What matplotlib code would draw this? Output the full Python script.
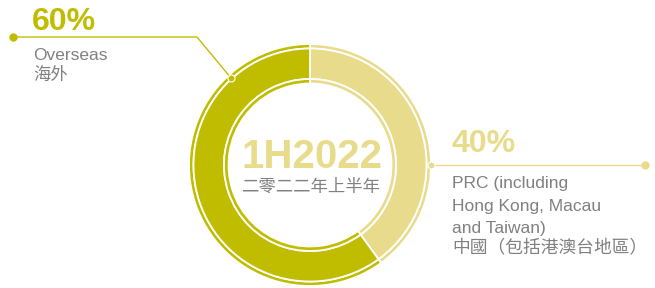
import matplotlib
matplotlib.use("Agg")
import matplotlib.pyplot as plt

# chart data
labels = ["PRC (including\nHong Kong, Macau\nand Taiwan)", "Overseas"]
labels_zh = ["中國（包括港澳台地區）", "海外"]
shares = [40, 60]
period = "1H2022"
period_zh = "二零二二年上半年"

dark = "#C0BD00"
light = "#E8DC8C"
grey = "#808080"
colors = [light, dark]

W, H = 655, 288
fig = plt.figure(figsize=(6.55, 2.88), dpi=100)
ax = fig.add_axes([0, 0, 1, 1])

cx, cy = 310, H - 165
# rings: outer thin, main band, inner thin
rings = [(121, 4.5), (116.5, 30.5), (86, 4.5)]
for r, w in rings:
    ax.pie(shares, colors=colors, startangle=90, counterclock=False,
           radius=r, center=(cx, cy),
           wedgeprops=dict(width=w, edgecolor="white", linewidth=1.3))

ax.set_xlim(0, W)
ax.set_ylim(0, H)
ax.set_aspect("equal")
ax.axis("off")

fam = ["Liberation Sans", "Noto Sans CJK TC", "DejaVu Sans"]
cjk = ["Noto Sans CJK TC", "DejaVu Sans"]

# centre text
ax.text(cx + 2, H - 168, period, ha="center", va="baseline", fontsize=29,
        fontweight="bold", color=light, family=fam)
ax.text(cx + 1, H - 192, period_zh, ha="center", va="baseline", fontsize=12.5,
        color=grey, family=cjk)

# Overseas leader
ax.plot([13, 197, 231], [H - 37, H - 37, H - 78], color=dark, lw=1.0)
ax.plot([13], [H - 37], "o", color=dark, ms=5)
ax.plot([231], [H - 78], "o", color=dark, ms=5, mec="white", mew=0.8)
ax.text(32, H - 30, f"{shares[1]}%", ha="left", va="baseline", fontsize=23,
        fontweight="bold", color=dark, family=fam)
ax.text(33, H - 60, labels[1], ha="left", va="baseline", fontsize=12.5,
        color=grey, family=fam)
ax.text(33, H - 80, labels_zh[1], ha="left", va="baseline", fontsize=12.5,
        color=grey, family=cjk)

# PRC leader
ax.plot([431, 645], [H - 164.5, H - 164.5], color=light, lw=1.0)
ax.plot([645], [H - 164.5], "o", color=light, ms=5)
ax.plot([431], [H - 164.5], "o", color=light, ms=5, mec="white", mew=0.8)
ax.text(451, H - 152, f"{shares[0]}%", ha="left", va="baseline", fontsize=23,
        fontweight="bold", color=light, family=fam)
for i, line in enumerate(labels[0].split("\n")):
    ax.text(452, H - (188 + 22.5 * i), line, ha="left", va="baseline",
            fontsize=12.5, color=grey, family=fam)
ax.text(452, H - 253, labels_zh[0], ha="left", va="baseline", fontsize=12.8,
        color=grey, family=cjk)

fig.savefig("out.png", dpi=100, facecolor="white")
